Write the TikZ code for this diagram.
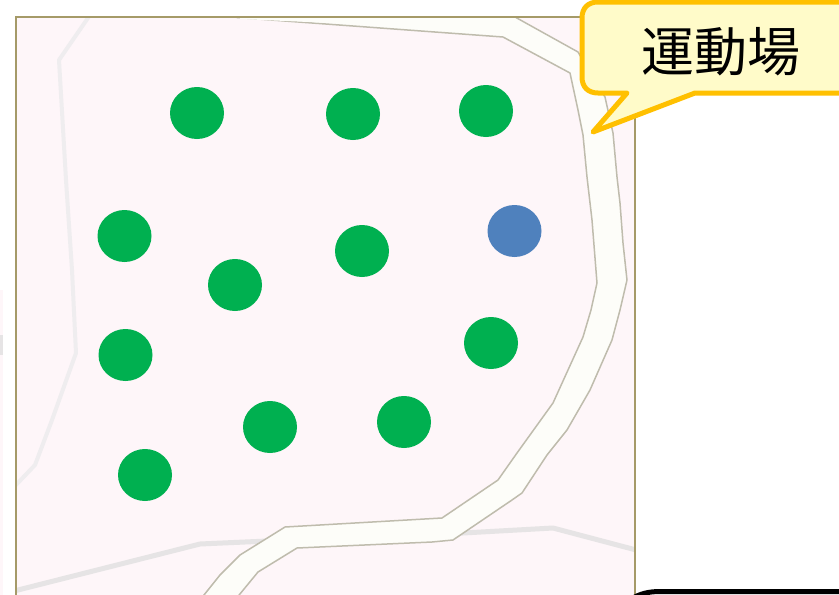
\documentclass[tikz,border=0pt]{standalone}
\usepackage{fontspec}
\newfontfamily\cjkfont{Noto Sans CJK JP}
\definecolor{mappink}{HTML}{FEF6F9}
\definecolor{roadfill}{HTML}{FDFDF9}
\definecolor{roadedge}{HTML}{BFBCAD}
\definecolor{framecol}{HTML}{A59A68}
\definecolor{pathgray}{HTML}{E6E4E5}
\definecolor{pathpale}{HTML}{EFEDEF}
\definecolor{dotgreen}{HTML}{00B050}
\definecolor{dotblue}{HTML}{4F81BD}
\definecolor{calloutfill}{HTML}{FFFBC9}
\definecolor{calloutedge}{HTML}{FFC000}
\tikzset{
  x=1pt,y=-1pt,
  dot/.style={ellipse,minimum width=54pt,minimum height=52pt,inner sep=0pt,fill=dotgreen},
  bluedot/.style={dot,fill=dotblue},
  trail/.style={draw=pathgray,line width=5pt,line join=round},
  paletrail/.style={draw=pathpale,line width=4pt,line join=round},
  road/.style={fill=roadfill,draw=roadedge,line width=1.5pt,line join=round},
  calloutshape/.style={fill=calloutfill,draw=calloutedge,line width=5pt,line join=round},
}
\usetikzlibrary{shapes.geometric}
\begin{document}
\begin{tikzpicture}
\useasboundingbox (0,0) rectangle (839,595);
\fill[white] (0,0) rectangle (839,595);
\begin{scope}
\clip (0,0) rectangle (839,595);
% left sliver of the neighbouring map
\fill[mappink] (0,290) rectangle (3,595);
\fill[pathgray] (0,335) rectangle (3,355);
\begin{scope}
\clip (16,17) rectangle (635,600);
\fill[mappink] (16,17) rectangle (635,600);
\draw[paletrail] (90,15) -- (59,60) -- (66,180) -- (72,270) -- (76,353) -- (52,420) -- (35,465) -- (14,487);
\draw[trail] (14,591) -- (200,544) -- (290,540) -- (463,533) -- (553,528) -- (640,551);
\draw[road] (237,17.5) -- (503,37) -- (570,73) -- (578,110) -- (583,135) -- (587,177) -- (592,220) -- (597,283)
  -- (591,310) -- (583,337) -- (553,403) -- (517,453) -- (498,480) -- (442,518) -- (285,527) -- (240,555)
  -- (220,575) -- (200,600) -- (235,600) -- (258,572) -- (297,548) -- (432,542) -- (453,540) -- (512,500)
  -- (522,493) -- (547,455) -- (567,430) -- (590,390) -- (612,340) -- (620,310) -- (627,280) -- (623,243)
  -- (620,203) -- (617,177) -- (613,133) -- (605,97) -- (578,52) -- (515,17) -- cycle;
\fill[roadfill] (240,14) -- (518,14) -- (515,19) -- (400,26) -- (240,19) -- cycle;
\end{scope}
\draw[framecol,line width=2pt] (16,600) -- (16,17) -- (635,17) -- (635,600);
\draw[black,line width=5pt,fill=white] (633,598) .. controls (640,594) and (648,591.5) .. (660,591.5) -- (850,591.5);
\draw[calloutshape] (598,2) -- (850,2) -- (850,93) -- (695,93) -- (593,132) -- (627,93) -- (598,93)
  .. controls (588,93) and (582,87) .. (582,77) -- (582,18) .. controls (582,8) and (588,2) .. (598,2) -- cycle;
\end{scope}
\node[dot] (g1) at (197,113) {};
\node[dot] (g2) at (353,114) {};
\node[dot] (g3) at (486,111) {};
\node[dot] (g4) at (124.5,236) {};
\node[dot] (g5) at (235,285) {};
\node[dot] (g6) at (362,251) {};
\node[dot] (g7) at (125.5,355) {};
\node[dot] (g8) at (491,343) {};
\node[dot] (g9) at (270,427) {};
\node[dot] (g10) at (404,422) {};
\node[dot] (g11) at (145,475) {};
\node[bluedot] (b1) at (514.5,231) {};
\node[inner sep=0pt,font=\cjkfont\fontsize{53}{57}\selectfont] (label) at (721,52) {運動場};
\end{tikzpicture}
\end{document}
